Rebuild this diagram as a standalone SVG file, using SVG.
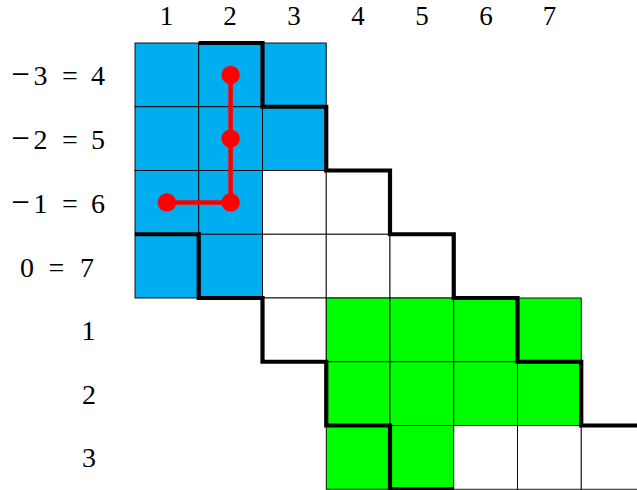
<svg xmlns="http://www.w3.org/2000/svg" width="637" height="490" viewBox="0 0 637 490">
<style>
.c{stroke:#000;stroke-width:0.9}
.b{fill:#00AEEF}
.g{fill:#00FF00}
.w{fill:#FFFFFF}
.thick{fill:none;stroke:#000;stroke-width:4.2;stroke-linejoin:miter;stroke-linecap:butt}
.red{fill:none;stroke:#FF0000;stroke-width:4.5;stroke-linejoin:round}
.dot{fill:#FF0000}
.t{font-family:"Liberation Serif","Times New Roman",serif;font-size:28px;fill:#000;text-anchor:middle}
.top{font-size:27px}
.m{font-size:33px}
</style>
<rect width="637" height="490" fill="#FFFFFF"/>
<g id="cells">
<rect class="c b" x="135" y="43" width="63.75" height="63.75"/>
<rect class="c b" x="198.75" y="43" width="63.75" height="63.75"/>
<rect class="c b" x="262.5" y="43" width="63.75" height="63.75"/>
<rect class="c b" x="135" y="106.75" width="63.75" height="63.75"/>
<rect class="c b" x="198.75" y="106.75" width="63.75" height="63.75"/>
<rect class="c b" x="262.5" y="106.75" width="63.75" height="63.75"/>
<rect class="c b" x="135" y="170.5" width="63.75" height="63.75"/>
<rect class="c b" x="198.75" y="170.5" width="63.75" height="63.75"/>
<rect class="c w" x="262.5" y="170.5" width="63.75" height="63.75"/>
<rect class="c w" x="326.25" y="170.5" width="63.75" height="63.75"/>
<rect class="c b" x="135" y="234.25" width="63.75" height="63.75"/>
<rect class="c b" x="198.75" y="234.25" width="63.75" height="63.75"/>
<rect class="c w" x="262.5" y="234.25" width="63.75" height="63.75"/>
<rect class="c w" x="326.25" y="234.25" width="63.75" height="63.75"/>
<rect class="c w" x="390" y="234.25" width="63.75" height="63.75"/>
<rect class="c w" x="262.5" y="298" width="63.75" height="63.75"/>
<rect class="c g" x="326.25" y="298" width="63.75" height="63.75"/>
<rect class="c g" x="390" y="298" width="63.75" height="63.75"/>
<rect class="c g" x="453.75" y="298" width="63.75" height="63.75"/>
<rect class="c g" x="517.5" y="298" width="63.75" height="63.75"/>
<rect class="c g" x="326.25" y="361.75" width="63.75" height="63.75"/>
<rect class="c g" x="390" y="361.75" width="63.75" height="63.75"/>
<rect class="c g" x="453.75" y="361.75" width="63.75" height="63.75"/>
<rect class="c g" x="517.5" y="361.75" width="63.75" height="63.75"/>
<rect class="c g" x="326.25" y="425.5" width="63.75" height="63.75"/>
<rect class="c g" x="390" y="425.5" width="63.75" height="63.75"/>
<rect class="c w" x="453.75" y="425.5" width="63.75" height="63.75"/>
<rect class="c w" x="517.5" y="425.5" width="63.75" height="63.75"/>
<rect class="c w" x="581.25" y="425.5" width="63.75" height="63.75"/>
</g>
<g id="connectors">
<path id="lower-boundary" class="thick" d="M135,234.25 H198.75 V298 H262.5 V361.75 H326.25 V425.5 H390 V489.25 H453.75"/>
<path id="upper-boundary" class="thick" d="M198.75,43 H262.5 V106.75 H326.25 V170.5 H390 V234.25 H453.75 V298 H517.5 V361.75 H581.25 V425.5 H645"/>
<path id="red-path" class="red" d="M230.6,74.9 V202.4 H166.9"/>
</g>
<g id="dots">
<circle class="dot" cx="230.6" cy="74.9" r="9.2"/>
<circle class="dot" cx="230.6" cy="138.6" r="9.2"/>
<circle class="dot" cx="230.6" cy="202.4" r="9.2"/>
<circle class="dot" cx="166.9" cy="202.4" r="9.2"/>
</g>
<g id="col-labels">
<text class="t top" x="166.5" y="24.5">1</text>
<text class="t top" x="230" y="24.5">2</text>
<text class="t top" x="294" y="24.5">3</text>
<text class="t top" x="358" y="24.5">4</text>
<text class="t top" x="422" y="24.5">5</text>
<text class="t top" x="486" y="24.5">6</text>
<text class="t top" x="549.5" y="24.5">7</text>
</g>
<g id="row-labels">
<text class="t" y="85"><tspan class="m" x="20.5">−</tspan><tspan x="40.5">3</tspan><tspan x="70">=</tspan><tspan x="98">4</tspan></text>
<text class="t" y="149"><tspan class="m" x="20.5">−</tspan><tspan x="40.5">2</tspan><tspan x="70">=</tspan><tspan x="98">5</tspan></text>
<text class="t" y="213"><tspan class="m" x="20.5">−</tspan><tspan x="40.5">1</tspan><tspan x="70">=</tspan><tspan x="98">6</tspan></text>
<text class="t" y="277"><tspan x="27">0</tspan><tspan x="56.5">=</tspan><tspan x="87">7</tspan></text>
<text class="t" x="88.5" y="340">1</text>
<text class="t" x="89" y="404">2</text>
<text class="t" x="89" y="467">3</text>
</g>
</svg>
